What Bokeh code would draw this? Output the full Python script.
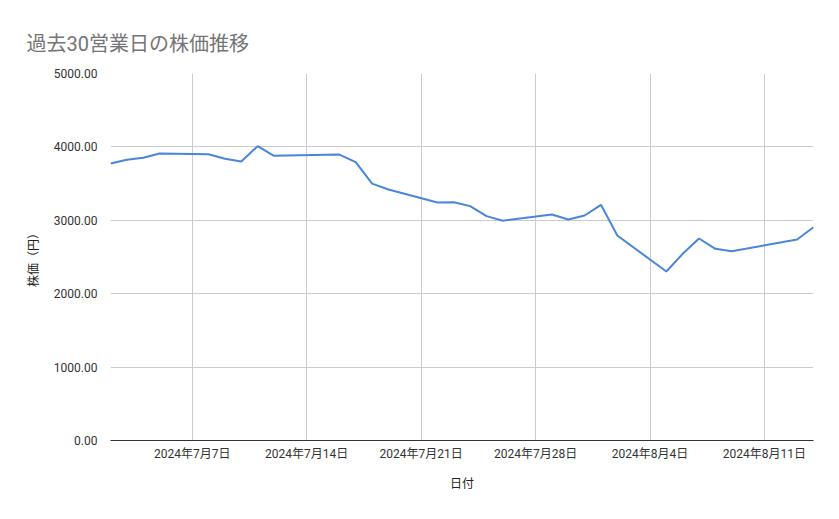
from datetime import datetime
from bokeh.plotting import figure
from bokeh.models import (ColumnDataSource, DatetimeTickFormatter, FixedTicker,
                          NumeralTickFormatter, Range1d)
from bokeh.embed import file_html
from bokeh.resources import INLINE

dates = ["2024-07-02", "2024-07-03", "2024-07-04", "2024-07-05", "2024-07-08",
         "2024-07-09", "2024-07-10", "2024-07-11", "2024-07-12", "2024-07-16",
         "2024-07-17", "2024-07-18", "2024-07-19", "2024-07-22", "2024-07-23",
         "2024-07-24", "2024-07-25", "2024-07-26", "2024-07-29", "2024-07-30",
         "2024-07-31", "2024-08-01", "2024-08-02", "2024-08-05", "2024-08-06",
         "2024-08-07", "2024-08-08", "2024-08-09", "2024-08-13", "2024-08-14"]
prices = [3774, 3824, 3851, 3910, 3900, 3838, 3801, 4010, 3879, 3896,
          3792, 3500, 3420, 3242, 3245, 3193, 3057, 2995, 3079, 3011,
          3065, 3211, 2793, 2302, 2543, 2752, 2611, 2579, 2738, 2906]
tick_dates = ["2024-07-07", "2024-07-14", "2024-07-21", "2024-07-28",
              "2024-08-04", "2024-08-11"]
y_ticks = [0, 1000, 2000, 3000, 4000, 5000]

title_text = "過去30営業日の株価推移"
x_title = "日付"
y_title = "株価（円）"

xs = [datetime.strptime(d, "%Y-%m-%d") for d in dates]
src = ColumnDataSource(dict(x=xs, y=prices))

def ms(d):
    return datetime.strptime(d, "%Y-%m-%d").timestamp() * 1000

p = figure(width=839, height=519, x_axis_type="datetime",
           output_backend="svg", toolbar_location=None,
           min_border_left=110, min_border_right=26,
           min_border_top=73, min_border_bottom=79,
           x_range=Range1d(xs[0], xs[-1]), y_range=Range1d(0, 5000))

p.line("x", "y", source=src, line_color="#4a86d8", line_width=2)

FONT = "Roboto, Noto Sans CJK JP"

p.title.text = title_text
p.title.text_font = FONT
p.title.text_font_size = "20px"
p.title.text_font_style = "normal"
p.title.text_color = "#757575"
p.title.offset = -84
p.title.standoff = 36

p.outline_line_color = None
p.background_fill_color = "white"

p.xaxis.ticker = FixedTicker(ticks=[ms(d) for d in tick_dates])
p.xaxis.formatter = DatetimeTickFormatter(days="%Y年%-m月%-d日", months="%Y年%-m月%-d日")
p.xaxis.axis_line_color = "#333333"
p.xaxis.major_tick_line_color = None
p.xaxis.minor_tick_line_color = None
p.xaxis.major_label_text_font = FONT
p.xaxis.major_label_text_font_size = "12px"
p.xaxis.major_label_text_color = "#333333"
p.xaxis.major_label_standoff = 0
p.xaxis.axis_label = x_title
p.xaxis.axis_label_text_font = FONT
p.xaxis.axis_label_text_font_size = "12px"
p.xaxis.axis_label_text_font_style = "normal"
p.xaxis.axis_label_text_color = "#222222"
p.xaxis.axis_label_standoff = 13

p.yaxis.ticker = FixedTicker(ticks=y_ticks)
p.yaxis.formatter = NumeralTickFormatter(format="0.00")
p.yaxis.axis_line_color = None
p.yaxis.major_tick_line_color = None
p.yaxis.minor_tick_line_color = None
p.yaxis.major_label_text_font = FONT
p.yaxis.major_label_text_font_size = "12px"
p.yaxis.major_label_text_color = "#333333"
p.yaxis.major_label_standoff = 7
p.yaxis.axis_label = y_title
p.yaxis.axis_label_text_font = FONT
p.yaxis.axis_label_text_font_size = "12px"
p.yaxis.axis_label_text_font_style = "normal"
p.yaxis.axis_label_text_color = "#222222"
p.yaxis.axis_label_standoff = 10

p.xgrid.grid_line_color = "#cccccc"
p.ygrid.grid_line_color = "#cccccc"

open("out.html", "w").write(file_html(p, INLINE))
